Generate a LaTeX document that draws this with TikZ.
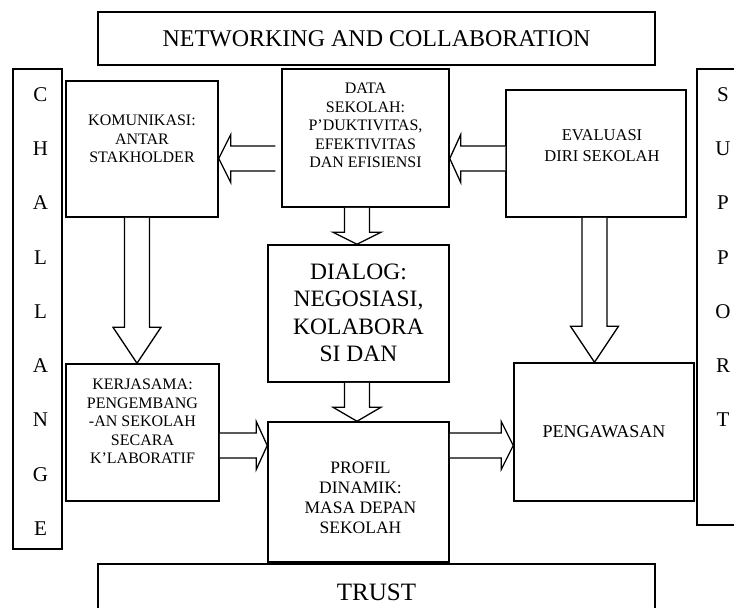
\documentclass[tikz,border=0pt]{standalone}
\usepackage{fontspec}
\setmainfont{Liberation Serif}
\usetikzlibrary{positioning,calc}

\newcommand{\blockarrow}[3]{%
  \draw[blockarr]
    ($(#1)!12.5pt!90:(#2)$) -- ($($(#2)!#3!(#1)$)!12.5pt!90:(#2)$)
    -- ($($(#2)!#3!(#1)$)!24pt!90:(#2)$) -- (#2)
    -- ($($(#2)!#3!(#1)$)!24pt!-90:(#2)$) -- ($($(#2)!#3!(#1)$)!12.5pt!-90:(#2)$)
    -- ($(#1)!12.5pt!-90:(#2)$);
}

\begin{document}
\begin{tikzpicture}[x=1pt, y=-1pt,
    box/.style = {draw, line width=1.5pt, inner sep=0pt},
    txt/.style = {align=center, inner sep=0pt, font=\fontsize{16}{18.5}\selectfont},
    big/.style = {align=center, inner sep=0pt, font=\fontsize{23.5}{27.5}\selectfont},
    letters/.style = {align=center, inner sep=0pt, font=\fontsize{21}{54.25}\selectfont},
    blockarr/.style = {draw, line width=1.3pt, fill=white, line join=miter}]
        \useasboundingbox (0,0) rectangle (734,608);
        \clip (0,0) rectangle (734,608);
        \node[box, minimum width=557pt, minimum height=53pt, font=\fontsize{24}{28}\selectfont] (net) at (376.5,38.5) {NETWORKING AND COLLABORATION};
        \node[box, minimum width=49pt, minimum height=480pt] (chal) at (37.5,309) {};
        \node[box, minimum width=63pt, minimum height=456pt] (sup) at (728.5,297) {};
        \node[box, minimum width=152pt, minimum height=136pt] (kom) at (142,149) {};
        \node[box, minimum width=167pt, minimum height=138pt] (data) at (365.5,138) {};
        \node[box, minimum width=180pt, minimum height=127pt] (eval) at (596,153.5) {};
        \node[box, minimum width=181pt, minimum height=137pt] (dial) at (358.5,313.5) {};
        \node[box, minimum width=153pt, minimum height=137pt] (kerj) at (142.5,432.5) {};
        \node[box, minimum width=181pt, minimum height=140pt] (prof) at (358.5,492) {};
        \node[box, minimum width=180pt, minimum height=138pt, font=\fontsize{18}{21}\selectfont] (peng) at (604,432) {PENGAWASAN};
        \node[box, minimum width=557pt, minimum height=56pt, font=\fontsize{25}{29}\selectfont] (trust) at (376.5,592) {TRUST};
        \node[letters] [below=19pt of chal.north, xshift=3pt] (chalt) {C\\H\\A\\L\\L\\A\\N\\G\\E};
        \node[letters] [below=19pt of sup.north, xshift=-5.5pt] (supt) {S\\U\\P\\P\\O\\R\\T};
        \node[txt] [below=34.7pt of kom.north] (komt) {KOMUNIKASI:\\ANTAR\\STAKHOLDER};
        \node[txt] [below=14.7pt of data.north] (datat) {DATA\\SEKOLAH:\\P’DUKTIVITAS,\\EFEKTIVITAS\\DAN EFISIENSI};
        \node[txt, font=\fontsize{16.5}{21}\selectfont] [below=39.7pt of eval.north, xshift=6pt] (evalt) {EVALUASI\\DIRI SEKOLAH};
        \node[big] [below=19.4pt of dial.north] (dialt) {DIALOG:\\NEGOSIASI,\\KOLABORA\\SI DAN};
        \node[txt] [below=15.7pt of kerj.north] (kerjt) {KERJASAMA:\\PENGEMBANG\\-AN SEKOLAH\\SECARA\\K’LABORATIF};
        \node[txt, font=\fontsize{17.5}{20}\selectfont] [below=40.2pt of prof.north, xshift=2pt] (proft) {PROFIL\\DINAMIK:\\MASA DEPAN\\SEKOLAH};
        \coordinate (rowA) at (0,158.5);
        \coordinate (rowB) at (0,445.5);
        \coordinate (colL) at (137,0);
        \coordinate (colM) at (357,0);
        \coordinate (colR) at (594.5,0);
        \coordinate (dks) at ($(data.west |- rowA)+(-6,0)$);
        \coordinate (dkt) at (kom.east |- rowA);
        \coordinate (eds) at (eval.west |- rowA);
        \coordinate (edt) at (data.east |- rowA);
        \coordinate (dds) at (data.south -| colM);
        \coordinate (ddt) at (dial.north -| colM);
        \coordinate (dps) at (dial.south -| colM);
        \coordinate (dpt) at (prof.north -| colM);
        \coordinate (kks) at (kom.south -| colL);
        \coordinate (kkt) at (kerj.north -| colL);
        \coordinate (eps) at (eval.south -| colR);
        \coordinate (ept) at (peng.north -| colR);
        \coordinate (kps) at (kerj.east |- rowB);
        \coordinate (kpt) at (prof.west |- rowB);
        \coordinate (pps) at (prof.east |- rowB);
        \coordinate (ppt) at (peng.west |- rowB);
        \blockarrow{dks}{dkt}{12pt}
        \blockarrow{eds}{edt}{11pt}
        \blockarrow{dds}{ddt}{12pt}
        \blockarrow{dps}{dpt}{14pt}
        \blockarrow{kks}{kkt}{36pt}
        \blockarrow{eps}{ept}{36pt}
        \blockarrow{kps}{kpt}{11pt}
        \blockarrow{pps}{ppt}{12pt}
    \end{tikzpicture}
\end{document}
